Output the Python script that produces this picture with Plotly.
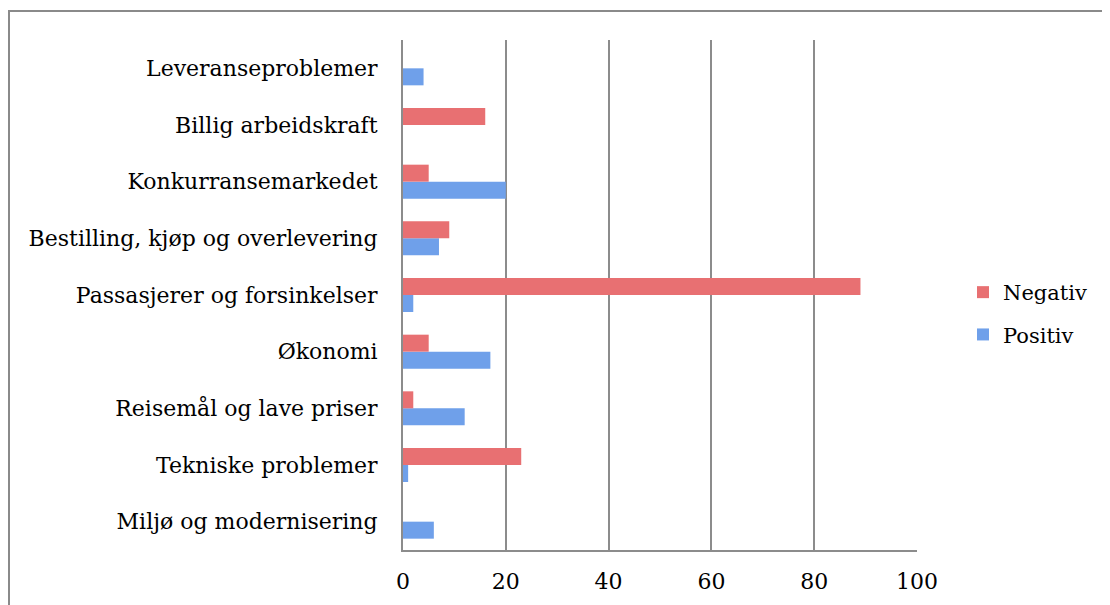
import plotly.graph_objects as go

categories = [
    "Miljø og modernisering",
    "Tekniske problemer",
    "Reisemål og lave priser",
    "Økonomi",
    "Passasjerer og forsinkelser",
    "Bestilling, kjøp og overlevering",
    "Konkurransemarkedet",
    "Billig arbeidskraft",
    "Leveranseproblemer",
]
positiv = [6, 1, 12, 17, 2, 7, 20, 0, 4]
negativ = [0, 23, 2, 5, 89, 9, 5, 16, 0]
x_ticks = [0, 20, 40, 60, 80, 100]

FONT = "DejaVu Serif"
GRID = "#8c8c8c"

fig = go.Figure()
fig.add_trace(go.Bar(
    y=categories, x=positiv, name="Positiv", orientation="h",
    marker=dict(color="#6fa0ea", line=dict(width=0)),
    legendgroup="p", legendrank=2,
))
fig.add_trace(go.Bar(
    y=categories, x=negativ, name="Negativ", orientation="h",
    marker=dict(color="#e87072", line=dict(width=0)),
    legendgroup="n", legendrank=1,
))

# page has an 8px body margin: design in page coords, subtract offset
OFF = 8
W, H = 1110 - OFF, 605 - OFF
X0, X1, Y0, Y1 = 403 - OFF, 917 - OFF, 40 - OFF, 550 - OFF
L, R, T, B = X0, W - X1, Y0, H - Y1
pw, ph = X1 - X0, Y1 - Y0

def px_x(p):
    return (p - OFF - X0) / pw

def px_y(p):
    return (Y1 - (p - OFF)) / ph

fig.update_layout(
    width=W, height=H,
    margin=dict(l=L, r=R, t=T, b=B, autoexpand=False),
    paper_bgcolor="white", plot_bgcolor="white",
    font=dict(family=FONT, size=21, color="black"),
    barmode="group", bargap=0.4, bargroupgap=0,
    showlegend=True,
    legend=dict(
        x=px_x(963), y=px_y(272), xanchor="left", yanchor="top",
        font=dict(family=FONT, size=21, color="black"),
        tracegroupgap=12, itemwidth=30, bgcolor="rgba(0,0,0,0)",
    ),
    xaxis=dict(
        range=[0, 100], tickvals=x_ticks, ticktext=[str(v) for v in x_ticks],
        showgrid=True, gridcolor=GRID, gridwidth=2, zeroline=False,
        showline=True, linecolor=GRID, linewidth=2, ticks="",
        ticklabelstandoff=11, fixedrange=True,
        tickfont=dict(family=FONT, size=22, color="black"),
    ),
    yaxis=dict(
        categoryorder="array", categoryarray=categories,
        showgrid=False, zeroline=False, showline=True, linecolor=GRID, linewidth=2,
        ticks="", ticklabelstandoff=19, fixedrange=True,
        tickfont=dict(family=FONT, size=22, color="black"),
    ),
    shapes=[dict(
        type="rect", xref="paper", yref="paper",
        x0=px_x(9), x1=px_x(1200), y0=px_y(700), y1=px_y(11),
        line=dict(color="#8a8a8a", width=2), fillcolor="rgba(0,0,0,0)", layer="below",
    )],
)

fig.write_html("out.html")
